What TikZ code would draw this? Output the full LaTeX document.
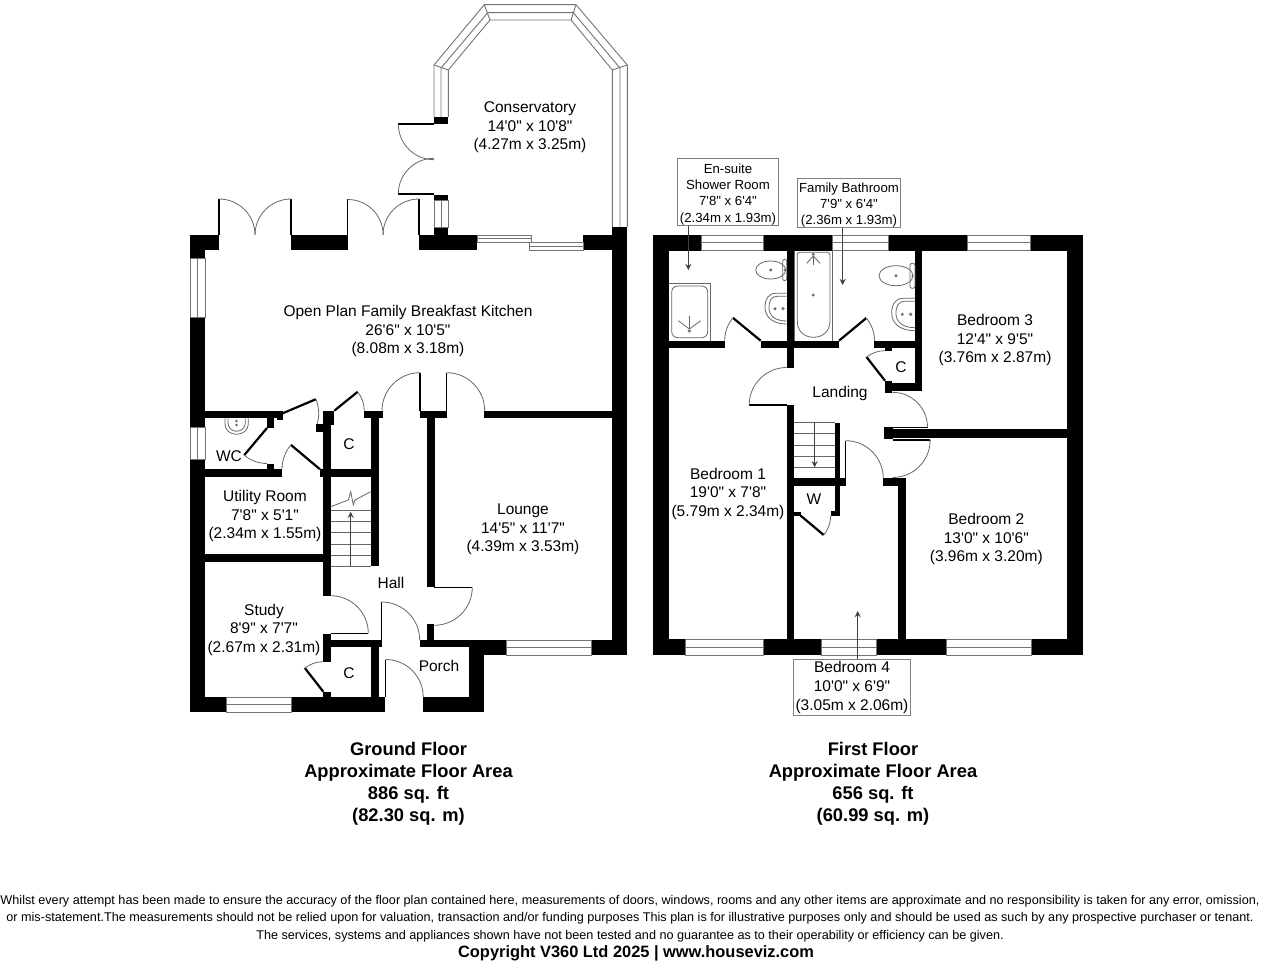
\documentclass[tikz,border=0pt]{standalone}
\usepackage{fontspec}
\setmainfont{Liberation Sans}[Ligatures=TeXOff]
\tikzset{
  wall/.style={fill=black},
  glass/.style={draw=black!55,fill=white,line width=0.45pt},
  jamb/.style={draw=black,line width=0.7pt},
  leaf/.style={draw=black,line width=1.1pt},
  swing/.style={draw=black!60,line width=0.4pt},
  fitting/.style={draw=black!60,line width=0.4pt},
  room/.style={align=center,inner sep=0pt,font=\fontsize{7.75}{9.25}\selectfont},
  tagbox/.style={draw=black!50,line width=0.5pt,fill=white,align=center,inner sep=0pt},
  lead/.style={->,>=stealth,draw=black!75,line width=0.4pt},
  caption/.style={align=center,inner sep=0pt,font=\bfseries\fontsize{9.15}{11}\selectfont}
}
% x1 y1 x2 y2
\newcommand{\hwin}[4]{
\draw[glass] (#1,#2) rectangle (#3,#4);
\draw[glass] (#1,{(#2+#4)/2})--(#3,{(#2+#4)/2});
}
\newcommand{\vwin}[4]{
\draw[glass] (#1,#2) rectangle (#3,#4);
\draw[glass] ({(#1+#3)/2},#2)--({(#1+#3)/2},#4);
}
% hinge x, hinge y, radius, open angle, shut angle
\newcommand{\door}[6][jamb]{
\draw[#1] (#2,#3)--({#2+#4*cos(#5)},{#3+#4*sin(#5)});
\draw[swing] ({#2+#4*cos(#5)},{#3+#4*sin(#5)}) arc (#5:#6:#4);
}
% right edge x, top y, bottom y, width
\newcommand{\basin}[4]{
\draw[fitting] (#1,#2)--({#1-#4*0.5},#2) .. controls ({#1-#4*0.85},#2) and ({#1-#4},{#2+(#3-#2)*0.2}) .. ({#1-#4},{#2+(#3-#2)*0.45}) .. controls ({#1-#4},{#2+(#3-#2)*0.8}) and ({#1-#4*0.6},#3) .. (#1,#3);
\draw[fitting] (#1,{#2+3})--({#1-#4*0.45},{#2+3}) .. controls ({#1-#4*0.7},{#2+3}) and ({#1-#4*0.82},{#2+(#3-#2)*0.25}) .. ({#1-#4*0.82},{#2+(#3-#2)*0.45}) .. controls ({#1-#4*0.82},{#2+(#3-#2)*0.75}) and ({#1-#4*0.5},{#3-3}) .. (#1,{#3-3});
}
\begin{document}
\begin{tikzpicture}[x=0.5pt,y=-0.5pt,line join=miter]
\useasboundingbox (0,0) rectangle (1264,968);
% ground floor walls
\foreach \xa/\ya/\xb/\yb in {190/235/219/250,190/235/205/258,190/317/205/427,190/459/205/712,190/697/226/712,291/697/385/712,
423/697/484.3/712,469.3/640/484.3/712,420/640/506/647.3,469.3/640/506/655,591/640/627.3/655,612.3/227/627.3/655,
583.3/235/612.3/250,419/235/477/250,433.5/227/448.3/235,433.5/195/448.3/200,433.5/117/448.3/124,291/235/348/250,
205/410.7/276.7/418.3,276.7/411/282.7/420,266.7/418/274.3/427.7,266.7/464/274.3/469.3,205/469.3/281.7/476.7,
320/469.3/370.7/477.3,205/554.3/323.3/562.3,322.7/425/330.7/596,323.3/410.7/334.3/425,316/424.3/323.3/431.7,
323.3/634/330.7/662,330.7/640/381.7/647.3,323.3/691.7/330.7/697,370.7/647/378.7/697,370.7/418/378.7/566,
364.3/410.7/382.7/418.3,426.7/418/435/587,420/410.7/446.7/418.3,484/410.7/612.3/418.3,426.7/624.3/434.3/640}
{
\fill[wall] (\xa,\ya) rectangle (\xb,\yb);
}
% first floor walls
\foreach \xa/\ya/\xb/\yb in {653.3/235/701.7/250.7,763.3/235/832.3/250.7,888.3/235/967/250.7,1030/235/1082.7/250.7,
653.3/235/669/655,1067.3/235/1082.7/655,653.3/639.3/685/655,763.3/639.3/821/655,876.7/639.3/946.7/655,1031.7/639.3/1082.7/655,
786.7/250/794.3/367.7,786.7/405/794.3/639.3,669/340.7/725/347.7,760.7/340.7/839/347.7,874/340.7/922.3/347.7,
915/250/922.3/390.7,885/383.3/922.3/390.7,885/380.7/892.3/392.7,885/347.7/892.3/350.7,884.3/427.3/892.7/439.3,
892.7/429.3/1067.3/437.7,883.3/478.3/905.7/485.7,898.3/485.7/905.7/639.3,794.3/478.3/845.7/485.7,
835/422.7/840/515.7,830.7/510.7/840/515.7,794.3/511.7/800.7/515.7}
{
\fill[wall] (\xa,\ya) rectangle (\xb,\yb);
}
% windows
\vwin{190}{258}{205}{317}
\vwin{190}{427}{205}{459}
\hwin{226}{697}{291}{712}
\hwin{506}{640}{591}{655}
\vwin{434}{200}{448.3}{227}
\hwin{477}{235}{531.7}{242.3}
\hwin{529}{242.3}{583.3}{250}
\hwin{701.7}{235}{763.3}{250.7}
\hwin{832.3}{235}{888.3}{250.7}
\hwin{967}{235}{1030}{250.7}
\hwin{685}{639.3}{763.3}{655}
\hwin{821}{639.3}{876.7}{655}
\hwin{946.7}{639.3}{1031.7}{655}
% conservatory glazing
\draw[glass,fill=none] (434,117)--(434,65)--(484.3,4.7)--(576,4.7)--(627.3,65)--(627.3,227);
\draw[glass,fill=none] (441,117)--(441,68)--(487.7,12.7)--(573.3,12.7)--(620,68)--(620,227);
\draw[glass,fill=none] (448.3,117)--(448.3,70)--(490,20)--(571,20)--(612.3,70)--(612.3,227);
\draw[glass] (434,65)--(448.3,70) (484.3,4.7)--(490,20) (576,4.7)--(571,20) (627.3,65)--(612.3,70);
% doors
\door{219}{235}{36}{-90}{0}
\door{291}{235}{36}{-90}{-180}
\door{347.7}{235}{35.5}{-90}{0}
\door{419}{235}{36}{-90}{-180}
\door{434}{124}{35.7}{180}{90}
\door{434}{194}{35.7}{180}{270}
\door{420}{410.7}{38}{-90}{-180}
\door{446.7}{410.7}{38}{-90}{0}
\door[leaf]{334.3}{410.7}{30}{-39}{0}
\door[leaf]{282.7}{413.3}{36}{-23}{18}
\door[leaf]{320}{469.3}{38}{220}{180}
\door[leaf]{267}{428}{35.5}{130}{90}
\door{330.7}{633.3}{37.6}{0}{-90}
\door[leaf]{323.3}{691.7}{30}{232}{270}
\door{434.3}{587.3}{38}{0}{90}
\door{381.7}{640}{38}{-90}{0}
\door{385.7}{697}{37.5}{-90}{0}
\door{786.7}{405}{37.5}{180}{270}
\door[leaf]{760.7}{340.7}{36}{219.4}{180}
\door[leaf]{839}{340.7}{35.5}{-39.7}{0}
\door[leaf]{885}{380.7}{30}{232}{270}
\door{892.5}{427.3}{35}{0}{-90}
\door{892.7}{440}{37.5}{0}{90}
\door{845.7}{478.3}{37.6}{-90}{0}
\door[leaf]{800.7}{515.7}{30}{40}{0}
% stairs
\foreach \y in {510,521.7,532.7,544,555,566}
{
\draw[swing] (330.7,\y)--(370.7,\y);
}
\draw[swing] (330.7,506.7)--(348.3,500)--(350.7,491.7)--(353.3,505)--(355,500)--(370.7,491.7);
\draw[lead] (350.7,566)--(350.7,511.7);
\foreach \y in {422.3,433.3,445,456,467.3}
{
\draw[swing] (794.3,\y)--(835,\y);
}
\draw[lead] (814.7,422.3)--(814.7,467.3);
% shower
\draw[fitting] (669,283.3)--(710,283.3)--(710,340.7);
\draw[fitting,rounded corners=3pt] (671.7,286) rectangle (707.7,337.7);
\draw[fitting] (689.3,331) circle (1.2);
\foreach \a/\b in {678.3/320.7,689.3/316,700.7/320.7}
{
\draw[fitting] (689.3,329)--(\a,\b);
}
% toilets and basins
\draw[fitting] (770.7,270) ellipse (15 and 9);
\draw[fitting,rounded corners=1pt] (782.7,259.3) rectangle (786.7,280.7);
\draw[fitting] (770.7,270) circle (1);
\draw[fitting] (784.7,270) circle (0.6);
\basin{786.7}{293.3}{324}{21.7}
\draw[fitting] (775,308.7) circle (1) (783,308.7) circle (1.2);
\draw[fitting] (896,275.7) ellipse (17 and 10);
\draw[fitting,rounded corners=1pt] (910,263.3) rectangle (915,288.3);
\draw[fitting] (896,275.7) circle (1);
\draw[fitting] (912.5,276) circle (0.6);
\basin{915}{298.3}{330.7}{23.3}
\draw[fitting] (902.3,314.3) circle (1) (910.7,314.3) circle (1.2);
\draw[fitting] (225,418.3)--(225,424) .. controls (225,430) and (230,434.3) .. (236.5,434.3) .. controls (243,434.3) and (248.3,430) .. (248.3,424)--(248.3,418.3);
\draw[fitting] (228,418.3)--(228,423) .. controls (228,428) and (232,431.3) .. (236.5,431.3) .. controls (241,431.3) and (245.3,428) .. (245.3,423)--(245.3,418.3);
\draw[fitting] (236.5,421) circle (0.8) (236.5,425) circle (0.8);
% bath
\draw[fitting] (794.3,250.7)--(794.3,340.7) (832.3,250.7)--(832.3,340.7);
\draw[fitting] (799.5,252.3)--(827.5,252.3) .. controls (829,252.3) and (830,253.5) .. (830,255)--(830,321) .. controls (830,331) and (823,337.3) .. (813.5,337.3) .. controls (804,337.3) and (797.3,331) .. (797.3,321)--(797.3,255) .. controls (797.3,253.5) and (798,252.3) .. (799.5,252.3)--cycle;
\draw[fitting] (813.3,295) circle (1.1) (813.3,254.3) circle (1.1);
\foreach \a/\b in {806.7/263.3,813.3/265,820/263.3}
{
\draw[fitting] (813.3,256)--(\a,\b);
}
% room labels
\node[room] (conservatory) at (530,127.5) {Conservatory\\14'0" x 10'8"\\(4.27m x 3.25m)};
\node[room] (kitchen) at (408,331) {Open Plan Family Breakfast Kitchen\\26'6" x 10'5"\\(8.08m x 3.18m)};
\node[room] (lounge) at (523,529.5) {Lounge\\14'5" x 11'7"\\(4.39m x 3.53m)};
\node[room] (utility) at (265,516) {Utility Room\\7'8" x 5'1"\\(2.34m x 1.55m)};
\node[room] (study) at (264,629.5) {Study\\8'9" x 7'7"\\(2.67m x 2.31m)};
\node[room] (hall) at (391,583) {Hall};
\node[room] (wc) at (229,456) {WC};
\node[room] (porch) at (439,666) {Porch};
\node[room] (cupboarda) at (349,444) {C};
\node[room] (cupboardb) at (349,673) {C};
\node[room] (cupboardc) at (901,367) {C};
\node[room] (wardrobe) at (814,499) {W};
\node[room] (landing) at (840,393) {Landing};
\node[room] (bedone) at (728,493.5) {Bedroom 1\\19'0" x 7'8"\\(5.79m x 2.34m)};
\node[room] (bedtwo) at (986.3,539) {Bedroom 2\\13'0" x 10'6"\\(3.96m x 3.20m)};
\node[room] (bedthree) at (995,340) {Bedroom 3\\12'4" x 9'5"\\(3.76m x 2.87m)};
% tagged rooms
\node[tagbox,font=\fontsize{6.6}{8.15}\selectfont,minimum width=50.7pt,minimum height=33.2pt] (ensuite) at (728,192.2) {\rule{0pt}{7pt}En-suite\\Shower Room\\7'8" x 6'4"\\(2.34m x 1.93m)};
\node[tagbox,font=\fontsize{6.6}{8}\selectfont,minimum width=51.7pt,minimum height=24pt] (bathroom) at (849,203) {\rule{0pt}{6.8pt}Family Bathroom\\7'9" x 6'4"\\(2.36m x 1.93m)};
\node[tagbox,font=\fontsize{7.75}{9.5}\selectfont,minimum width=58.7pt,minimum height=28pt] (bedfour) at (852,687) {Bedroom 4\\10'0" x 6'9"\\(3.05m x 2.06m)};
\coordinate (ensuitetip) at (688.3,270);
\coordinate (bathroomtip) at (842.7,285);
\coordinate (bedfourtip) at (857.7,611);
\draw[lead] (ensuite.south -| ensuitetip)--(ensuitetip);
\draw[lead] (bathroom.south -| bathroomtip)--(bathroomtip);
\draw[lead] (bedfour.north -| bedfourtip)--(bedfourtip);
% captions
\node[caption] (groundcap) at (408.5,784) {Ground Floor\\Approximate Floor Area\\886 sq. ft\\(82.30 sq. m)};
\node[caption] (firstcap) at (873,784) {First Floor\\Approximate Floor Area\\656 sq. ft\\(60.99 sq. m)};
% small print
\node[align=center,inner sep=0pt,font=\fontsize{6.32}{8.8}\selectfont] (smallprint) at (630,918.5) {Whilst every attempt has been made to ensure the accuracy of the floor plan contained here, measurements of doors, windows, rooms and any other items are approximate and no responsibility is taken for any error, omission,\\or mis-statement.The measurements should not be relied upon for valuation, transaction and/or funding purposes This plan is for illustrative purposes only and should be used as such by any prospective purchaser or tenant.\\The services, systems and appliances shown have not been tested and no guarantee as to their operability or efficiency can be given.};
\node[inner sep=0pt,font=\bfseries\fontsize{8.2}{9.5}\selectfont] (copyline) at (636,953.5) {Copyright V360 Ltd 2025 | www.houseviz.com};
\end{tikzpicture}
\end{document}
